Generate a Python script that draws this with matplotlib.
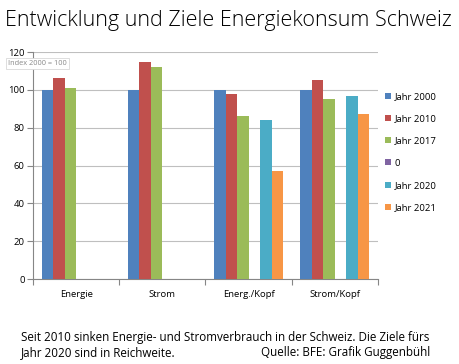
import matplotlib.pyplot as plt
import numpy as np

plt.rcParams['font.family'] = ['Open Sans', 'DejaVu Sans']

categories = ["Energie", "Strom", "Energ./Kopf", "Strom/Kopf"]
series_names = ["Jahr 2000", "Jahr 2010", "Jahr 2017", "0", "Jahr 2020", "Jahr 2021"]
jahr_2000 = [100, 100, 100, 100]
jahr_2010 = [106.5, 114.5, 98, 105]
jahr_2017 = [101, 112, 86, 95]
null_serie = [np.nan, np.nan, np.nan, np.nan]
jahr_2020 = [np.nan, np.nan, 84, 97]
jahr_2021 = [np.nan, np.nan, 57, 87]
series = [jahr_2000, jahr_2010, jahr_2017, null_serie, jahr_2020, jahr_2021]
colors = ["#4F81BD", "#C0504D", "#9BBB59", "#8064A2", "#4BACC6", "#F79646"]

fig = plt.figure(figsize=(4.59, 3.64), dpi=100)
ax = fig.add_axes([0.0719, 0.2335, 0.7516, 0.6235])

x = np.arange(len(categories))
w = 0.8 / 6
for i, (vals, col, name) in enumerate(zip(series, colors, series_names)):
    ax.bar(x - 0.4 + w * (i + 0.5), vals, width=w, color=col, label=name, zorder=3)

ax.set_xlim(-0.5, 3.5)
ax.set_ylim(0, 120)
ax.set_yticks(range(0, 121, 20))
ax.yaxis.grid(True, color="#BFBFBF", linewidth=0.8, zorder=0)
ax.set_xticks(x)
ax.set_xticklabels(categories, fontsize=6.8)
ax.set_xticks(np.arange(-0.5, 4, 1), minor=True)
ax.tick_params(axis="x", which="major", length=0, pad=8)
ax.tick_params(axis="x", which="minor", length=4, color="#868686", width=0.8)
ax.tick_params(axis="y", length=4, color="#868686", width=0.8, labelsize=6.8, pad=2)
for s in ["top", "right"]:
    ax.spines[s].set_visible(False)
for s in ["left", "bottom"]:
    ax.spines[s].set_color("#868686")
    ax.spines[s].set_linewidth(0.8)

leg = ax.legend(loc="upper left", bbox_to_anchor=(1.01, 0.84), frameon=False,
                fontsize=6.8, handlelength=0.6, handleheight=0.6, handletextpad=0.4,
                labelspacing=1.4, borderaxespad=0)

fig.text(0.01, 0.945, "Entwicklung und Ziele Energiekonsum Schweiz", ha="left", va="center",
         fontsize=15.5, color="#000000", fontweight="light")
fig.text(0.017, 0.826, "Index 2000 = 100", fontsize=5.3, color="#888888", ha="left", va="center",
         bbox=dict(boxstyle="square,pad=0.3", facecolor="white", edgecolor="#D8D8D8", linewidth=0.6))
fig.text(0.046, 0.073, "Seit 2010 sinken Energie- und Stromverbrauch in der Schweiz. Die Ziele fürs",
         fontsize=8.4, ha="left", va="center")
fig.text(0.046, 0.031, "Jahr 2020 sind in Reichweite.", fontsize=8.4, ha="left", va="center")
fig.text(0.938, 0.031, "Quelle: BFE: Grafik Guggenbühl", fontsize=8.4, ha="right", va="center")

fig.savefig("out.png", dpi=100)
